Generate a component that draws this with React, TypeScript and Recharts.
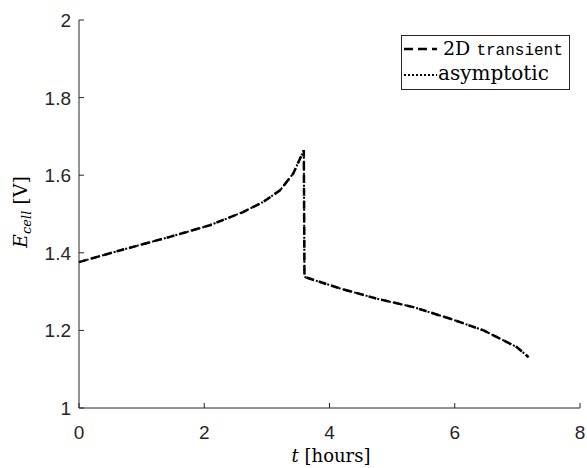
import React from 'react';
import { LineChart, Line, XAxis, YAxis } from 'recharts';

// time in hours, cell potential in volts
const tHours = [0, 0.65, 1.45, 2.09, 2.62, 2.94, 3.21, 3.42, 3.59, 3.6, 4.17, 4.75, 5.34, 5.93, 6.46, 6.99, 7.18];
const eTransient = [1.376, 1.406, 1.441, 1.471, 1.505, 1.531, 1.561, 1.604, 1.664, 1.338, 1.308, 1.282, 1.26, 1.23, 1.2, 1.157, 1.131];
const eAsymptotic = [1.376, 1.406, 1.441, 1.471, 1.505, 1.531, 1.561, 1.604, 1.664, 1.338, 1.308, 1.282, 1.26, 1.23, 1.2, 1.157, 1.131];

const xTicks = [0, 2, 4, 6, 8];
const yTicks = [1, 1.2, 1.4, 1.6, 1.8, 2];
const seriesNames = ['2D transient', 'asymptotic'];

const data = tHours.map((t, i) => ({ t, transient: eTransient[i], asymptotic: eAsymptotic[i] }));

const AXIS = '#262626';
const TICK_FONT = '"Liberation Sans", Arial, sans-serif';
const SERIF = '"DejaVu Serif", serif';

const BottomTick = (props: any) => {
  const { x, y, payload } = props;
  return (
    <g>
      <line x1={x} y1={y} x2={x} y2={y - 5} stroke={AXIS} />
      <text x={x} y={y + 31} textAnchor="middle" fontSize={19} fontFamily={TICK_FONT} fill={AXIS}>
        {payload.value}
      </text>
    </g>
  );
};

const TopTick = (props: any) => {
  const { x, y } = props;
  return <line x1={x} y1={y} x2={x} y2={y + 5} stroke={AXIS} />;
};

const LeftTick = (props: any) => {
  const { x, y, payload } = props;
  return (
    <g>
      <line x1={x} y1={y} x2={x + 5} y2={y} stroke={AXIS} />
      <text x={x - 8} y={y + 7} textAnchor="end" fontSize={19} fontFamily={TICK_FONT} fill={AXIS}>
        {payload.value}
      </text>
    </g>
  );
};

const RightTick = (props: any) => {
  const { x, y } = props;
  return <line x1={x} y1={y} x2={x - 5} y2={y} stroke={AXIS} />;
};

const XTitle = () => (
  <text x={331} y={462} textAnchor="middle" fontSize={18} fontFamily={SERIF} fill="#000">
    <tspan fontStyle="italic">t</tspan>
    <tspan> [hours]</tspan>
  </text>
);

const YTitle = () => (
  <text
    x={0}
    y={0}
    transform="translate(27 212) rotate(-90)"
    textAnchor="middle"
    fontSize={19}
    fontFamily={SERIF}
    fill="#000"
  >
    <tspan fontStyle="italic">E</tspan>
    <tspan fontStyle="italic" fontSize={13} dy={4}>cell</tspan>
    <tspan dy={-4}> [V]</tspan>
  </text>
);

const LegendBox = () => (
  <div
    style={{
      position: 'absolute',
      left: 401,
      top: 35,
      width: 169,
      height: 55,
      border: `1px solid ${AXIS}`,
      background: '#fff',
      boxSizing: 'border-box',
    }}
  >
    <svg width={167} height={53} style={{ display: 'block' }}>
      <line x1={2} y1={13} x2={35} y2={13} stroke="#000" strokeWidth={2.5} strokeDasharray="9 5" />
      <text x={41} y={19} fontSize={19} fontFamily={SERIF} fill="#000">
        2D <tspan fontFamily='"Liberation Mono", monospace' fontSize={16}>{seriesNames[0].split(' ')[1]}</tspan>
      </text>
      <line x1={2} y1={39} x2={35} y2={39} stroke="#000" strokeWidth={2} strokeDasharray="2 2" />
      <text x={36} y={44} fontSize={20} fontFamily={SERIF} fill="#000">
        {seriesNames[1]}
      </text>
    </svg>
  </div>
);

export default function App() {
  return (
    <div style={{ position: 'absolute', left: 0, top: 0, width: 587, height: 468, background: '#fff' }}>
      <LineChart width={587} height={468} data={data} margin={{ top: 20, right: 7, bottom: 0, left: 29 }}>
        <XAxis
          dataKey="t"
          type="number"
          domain={[0, 8]}
          ticks={xTicks}
          height={60}
          tickSize={0}
          tickMargin={0}
          tick={<BottomTick />}
          tickLine={false}
          axisLine={{ stroke: AXIS }}
          label={<XTitle />}
        />
        <XAxis
          xAxisId="top"
          orientation="top"
          dataKey="t"
          type="number"
          domain={[0, 8]}
          ticks={xTicks}
          height={0}
          tickSize={0}
          tickMargin={0}
          tick={<TopTick />}
          tickLine={false}
          axisLine={{ stroke: AXIS }}
        />
        <YAxis
          type="number"
          domain={[1, 2]}
          ticks={yTicks}
          width={50}
          tickSize={0}
          tickMargin={0}
          tick={<LeftTick />}
          tickLine={false}
          axisLine={{ stroke: AXIS }}
          label={<YTitle />}
        />
        <YAxis
          yAxisId="right"
          orientation="right"
          type="number"
          domain={[1, 2]}
          ticks={yTicks}
          width={0}
          tickSize={0}
          tickMargin={0}
          tick={<RightTick />}
          tickLine={false}
          axisLine={{ stroke: AXIS }}
        />
        <Line
          type="linear"
          dataKey="transient"
          name={seriesNames[0]}
          stroke="#000"
          strokeWidth={2.5}
          strokeDasharray="8 5"
          dot={false}
          isAnimationActive={false}
        />
        <Line
          type="linear"
          dataKey="asymptotic"
          name={seriesNames[1]}
          stroke="#000"
          strokeWidth={2}
          strokeDasharray="2 2"
          dot={false}
          isAnimationActive={false}
        />
      </LineChart>
      <LegendBox />
    </div>
  );
}
